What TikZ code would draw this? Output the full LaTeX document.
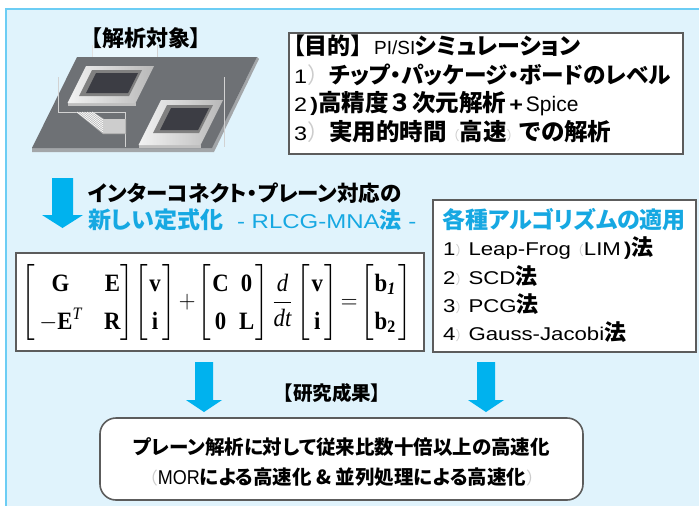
\documentclass[tikz,border=0pt]{standalone}
\usepackage{fontspec}
\usepackage{amsmath}
\usepackage{graphicx}
\setmainfont{Liberation Sans}[FakeStretch=1.2]
\newfontfamily\plainsans{Liberation Sans}
\newfontfamily\narrowsans{Liberation Sans}[FakeStretch=0.9]
\newfontfamily\jp{Noto Sans CJK JP}[RawFeature=+palt]
\newfontfamily\jpfull{Noto Sans CJK JP}
\newfontfamily\serif{Liberation Serif}

\definecolor{bgblue}{HTML}{E0F3FC}
\definecolor{edgeblue}{HTML}{6CCDF4}
\definecolor{arrowblue}{HTML}{00B2EE}
\definecolor{textblue}{HTML}{16A8E2}
\definecolor{boxline}{HTML}{5C5C5C}
\definecolor{boardtop}{HTML}{6E7175}
\definecolor{boardside}{HTML}{A3A6A9}
\definecolor{chipdark}{HTML}{3C3D44}

% bold Japanese, faint bracket glyphs (full and proportional width), serif bold maths letters
\newcommand\J[1]{{\jp\bfseries #1}}
\newcommand\JF[1]{{\jpfull\bfseries #1}}
\newcommand\faint[1]{{\color{black!20}\jpfull #1}}
\newcommand\faintp[1]{{\color{black!20}\jp #1}}
\newcommand\mb[1]{\text{\serif\bfseries #1}}
\newcommand\fs[1]{\fontsize{#1}{#1}\selectfont}

\tikzset{
  panel/.style={draw=boxline, line width=1.6pt, fill=white, inner sep=0pt},
  txt/.style={anchor=west, inner sep=0pt},
  label/.style={inner sep=0pt},
  ghost/.style={draw=white!65!gray, line width=0.5pt},
}

% a package: slanted plate with light frame and dark die
\newcommand\chippkg[9]{%
  % #1,#2 top-left corner, #3 width, #4 height; #5..#8 inner die box; #9 slant
  \fill[black!25] (#1-#9*#4,#2+#4) -- (#1+#3-#9*#4,#2+#4) -- (#1+#3-#9*#4,#2+#4+3) -- (#1-#9*#4,#2+#4+3) -- cycle;
  \shade[left color=white!95!black, right color=black!28]
    (#1,#2) -- (#1+#3,#2) -- (#1+#3-#9*#4,#2+#4) -- (#1-#9*#4,#2+#4) -- cycle;
  \fill[black!50] (#5-4,#6-3) -- (#5+#7+4,#6-3) -- (#5+#7+4-#9*#8-3,#6+#8+3) -- (#5-4-#9*#8-3,#6+#8+3) -- cycle;
  \fill[chipdark] (#5,#6) -- (#5+#7,#6) -- (#5+#7-#9*#8,#6+#8) -- (#5-#9*#8,#6+#8) -- cycle;
}

\begin{document}
\begin{tikzpicture}[x=1pt, y=-1pt]
\useasboundingbox (0,0) rectangle (699,506);

% page background with blue top and left edges
\fill[white] (0,0) rectangle (699,506);
\fill[bgblue] (6,9) rectangle (699,506);
\fill[edgeblue] (5,7.5) rectangle (699,9.5);
\fill[edgeblue] (4.5,7.5) rectangle (6.5,506);

% ---- board with two packages ----
\fill[boardside] (32,147) -- (212,147) -- (257,57) -- (259,59) -- (214,152) -- (32,152) -- cycle;
\fill[boardtop] (32,148) -- (77,57) -- (257,57) -- (212,148) -- cycle;
\draw[ghost] (58,77) -- (58,112) -- (125,112) -- (125,147);
\draw[ghost] (224,77) -- (224,147);
\draw[ghost] (92,57) -- (92,45);
\draw[ghost] (157,57) -- (157,45);
% interconnect ribbon
\fill[black!30] (76,112) -- (93,112) -- (104,119) -- (126,119) -- (126,134) -- (103,134) -- cycle;
\foreach \k in {0,...,6}
  \draw[white, line width=0.7pt] (92-2.5*\k,112) -- (103,120+2*\k) -- (125,120+2*\k);
\chippkg{86}{66}{68}{37}{96}{73}{42}{20}{0.5}
\chippkg{161}{100}{62}{45}{171}{108}{38}{22}{0.5}
\fill[white, opacity=0.35] (92,45) rectangle (157,57);

\node[label, font=\fs{22}] (target) at (146,38) {\J{【解析対象】}};

% ---- objectives ----
\node[panel, minimum width=394pt, minimum height=121pt] (goal) at (486,93.5) {};
\node[txt, font=\fs{23}] (g1) at (293,46) {\J{【目的】}\hspace{12pt}{\plainsans\fs{19}PI/SI}\J{\fs{23}シミュレーション}};
\node[txt, font=\fs{23}] (g2) at (294,75) {\fs{19.5}1\faint{\fs{22}）}\J{\fs{22.6}チップ・パッケージ・ボードのレベル}};
\node[txt, font=\fs{23}] (g3) at (294,104) {\fs{19.5}2\,{\bfseries )}\J{\fs{23.5}高精度}\JF{\fs{23.5}３}\J{\fs{23.5}次元解析}\hspace{3pt}{\bfseries +}\hspace{3pt}{\plainsans\fs{21}Spice}};
\node[txt, font=\fs{23}] (g4) at (294,132) {\fs{19.5}3\faint{\fs{22}）}\J{\fs{23.5}実用的時間}\faint{\fs{13}（}\J{\fs{23.5}高速}\faint{\fs{13}）}\J{\fs{23.5}での解析}};

% ---- formulation ----
\fill[arrowblue] (52,178) -- (73,178) -- (73,215) -- (83,215) -- (62.5,228) -- (42,215) -- (52,215) -- cycle;
\node[txt, font=\fs{21.5}] (h1) at (88,193) {\J{インターコネクト・プレーン対応の}};
\node[txt, font=\fs{23}, text=textblue] (h2) at (88,220) {\J{新しい定式化}\hspace{14pt}\fs{20}- RLCG-MNA\J{\fs{22}法} -};

\node[panel, minimum width=408pt, minimum height=98pt] (eqbox) at (220,302) {};
\node[label] (eqn) at (217,302.5) {\resizebox*{390pt}{76pt}{\fontsize{24.5}{24}\selectfont%
  $\displaystyle\renewcommand{\arraystretch}{1.55}%
  \left[\,\begin{array}{@{}c@{\hspace{24pt}}c@{}}\mb{G} & \mb{E}\\ -\mb{E}^{\text{\serif\itshape T}} & \mb{R}\end{array}\right]\!%
  \left[\begin{array}{@{\hspace{2pt}}c@{\hspace{2pt}}}\mb{v}\\ \mb{i}\end{array}\right]\mskip-2mu+\mskip-2mu%
  \left[\begin{array}{@{\hspace{1pt}}c@{\hspace{11pt}}c@{\hspace{1pt}}}\mb{C} & \mb{0}\\ \mb{0} & \mb{L}\end{array}\right]%
  \frac{\text{\serif\itshape d}}{\text{\serif\itshape dt}}%
  \left[\begin{array}{@{\hspace{2pt}}c@{\hspace{2pt}}}\mb{v}\\ \mb{i}\end{array}\right]\mskip-3mu=\mskip-3mu%
  \left[\begin{array}{@{\hspace{1pt}}c@{\hspace{3pt}}}\mb{b}_{\text{\serif\bfseries\itshape 1}}\\ \mb{b}_{\text{\serif\bfseries 2}}\end{array}\right]$}};

% ---- algorithms ----
\node[panel, minimum width=263pt, minimum height=152pt] (algo) at (564.5,276) {};
\node[txt, font=\fs{23}, text=textblue] (a0) at (442,220) {\J{各種アルゴリズムの適用}};
\node[txt, font=\fs{18.5}] (a1) at (443,248) {1\faint{\fs{13}）}Leap-Frog\faint{\fs{13}（}LIM\,{\bfseries )}\J{\fs{22}法}};
\node[txt, font=\fs{18.5}] (a2) at (443,276) {2\faint{\fs{13}）}SCD\J{\fs{22}法}};
\node[txt, font=\fs{18.5}] (a3) at (443,304) {3\faint{\fs{13}）}PCG\J{\fs{22}法}};
\node[txt, font=\fs{18.5}] (a4) at (443,332) {4\faint{\fs{13}）}Gauss-Jacobi\J{\fs{22}法}};

% ---- results ----
\fill[arrowblue] (195,362) -- (213,362) -- (213,400) -- (222,400) -- (204,412) -- (186,400) -- (195,400) -- cycle;
\fill[arrowblue] (477,362) -- (495,362) -- (495,400) -- (504,400) -- (486,412) -- (468,400) -- (477,400) -- cycle;
\node[label, font=\fs{19.5}] (res) at (332,393) {\J{【研究成果】}};

\node[panel, rounded corners=16pt, minimum width=483pt, minimum height=82pt] (result) at (341.5,459) {};
\node[label, font=\fs{19.5}] (r1) at (341.5,447) {\J{プレーン解析に対して従来比数十倍以上の高速化}};
\node[label, font=\fs{19.5}] (r2) at (342,477) {\faint{\fs{17}（}{\narrowsans\fs{20}MOR}\J{による高速化 \& 並列処理による高速化}\faint{\fs{17}）}};
\end{tikzpicture}
\end{document}
